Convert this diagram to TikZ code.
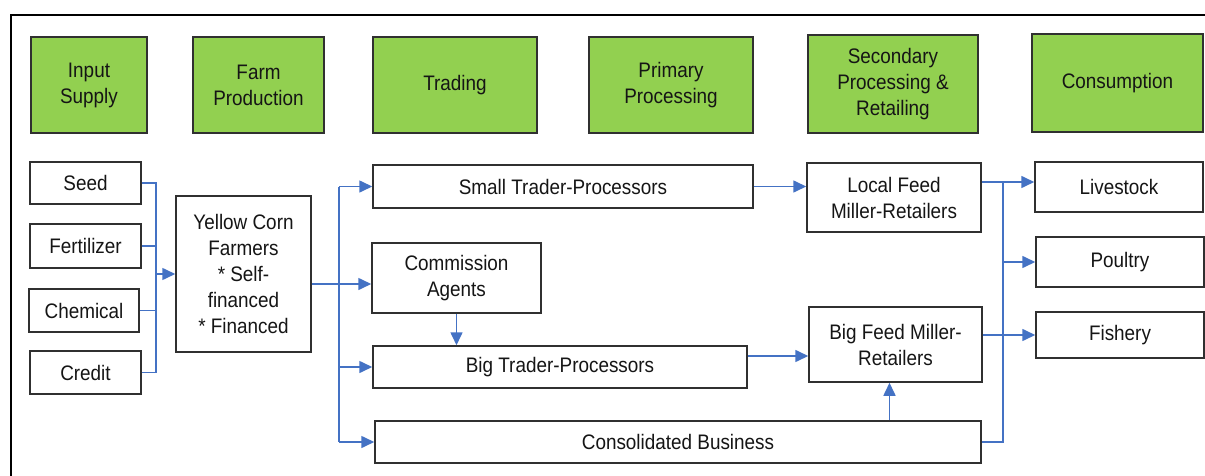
\documentclass[tikz,border=0pt]{standalone}
\usepackage{fontspec}
\setmainfont{Liberation Sans}[FakeStretch=0.9]
\usetikzlibrary{arrows.meta}
\definecolor{stagegreen}{HTML}{92D050}
\definecolor{flowblue}{HTML}{4472C4}
\definecolor{edgegray}{HTML}{303030}
\definecolor{inkgray}{HTML}{151515}
\tikzset{
  box/.style={draw=edgegray, line width=1.5pt, fill=white, inner sep=0pt,
    align=center, text=inkgray, font=\fontsize{21}{26}\selectfont},
  stage/.style={box, fill=stagegreen, minimum height=96pt},
  link/.style={draw=flowblue, line width=1.6pt},
  flow/.style={link, -{Triangle[length=13pt,width=12pt]}},
}
\begin{document}
\begin{tikzpicture}[x=1pt,y=-1pt]
\useasboundingbox (0,0) rectangle (1205,476);
\begin{scope}
  \clip (0,0) rectangle (1205,476);
  \draw[line width=2pt] (11,15) rectangle (1230,500);
\end{scope}

% stage headers
\node[stage, minimum width=116pt] (hin)   at (89,85)    {Input\\Supply};
\node[stage, minimum width=131pt] (hfarm) at (258.5,85) {Farm\\Production};
\node[stage, minimum width=164pt] (htrade) at (455,85)  {Trading};
\node[stage, minimum width=164pt] (hprim) at (671,85)   {Primary\\Processing};
\node[stage, minimum width=170pt, minimum height=98pt] (hsec) at (893,84) {Secondary\\Processing \&\\Retailing};
\node[stage, minimum width=171pt, minimum height=98pt] (hcons) at (1117.5,83) {Consumption};

% inputs
\node[box, minimum width=111pt, minimum height=42pt] (seed)   at (85.5,183)   {Seed};
\node[box, minimum width=111pt, minimum height=44pt] (fert)   at (85.5,246)   {Fertilizer};
\node[box, minimum width=110pt, minimum height=43pt] (chem)   at (84,310.5)   {Chemical};
\node[box, minimum width=111pt, minimum height=43pt] (credit) at (85.5,372.5) {Credit};

% farm production
\node[box, minimum width=135pt, minimum height=156pt] (farmers) at (243.5,274)
  {Yellow Corn\\Farmers\\* Self-\\financed\\* Financed};

% trading
\node[box, minimum width=380pt, minimum height=43pt] (small) at (563,186.5) {Small Trader-Processors};
\node[box, minimum width=169pt, minimum height=70pt] (comm)  at (456.5,278) {Commission\\Agents};
\node[box, minimum width=374pt, minimum height=42pt] (big)   at (560,367)   {Big Trader-Processors};
\node[box, minimum width=606pt, minimum height=42pt] (cons)  at (678,442)   {Consolidated Business};

% feed millers
\node[box, minimum width=174pt, minimum height=69pt] (local)   at (894,197.5)   {Local Feed\\Miller-Retailers};
\node[box, minimum width=173pt, minimum height=75pt] (bigfeed) at (895.5,344.5) {Big Feed Miller-\\Retailers};

% consumption
\node[box, minimum width=168pt, minimum height=50pt] (live)    at (1119,187) {Livestock};
\node[box, minimum width=168pt, minimum height=50pt] (poultry) at (1120,262) {Poultry};
\node[box, minimum width=168pt, minimum height=46pt] (fishery) at (1120,335) {Fishery};

% bus positions
\coordinate (lb) at (156,0);
\coordinate (mb) at (339,0);
\coordinate (rb) at (1003,0);
\coordinate (fy) at (0,284);
\coordinate (by) at (0,356);
\coordinate (ly) at (0,182);

% inputs to farmers
\draw[link] (seed.east) -- (seed.east -| lb) -- (credit.east -| lb) -- (credit.east);
\draw[link] (fert.east) -- (fert.east -| lb);
\draw[link] (chem.east) -- (chem.east -| lb);
\draw[flow] (lb |- farmers.west) -- (farmers.west);

% farmers to traders
\draw[flow] (farmers.east |- fy) -- (comm.west |- fy);
\draw[link] (mb |- small.west) -- (mb |- cons.west);
\draw[flow] (mb |- small.west) -- (small.west);
\draw[flow] (mb |- big.west) -- (big.west);
\draw[flow] (mb |- cons.west) -- (cons.west);
\draw[flow] (comm.south) -- (comm.south |- big.north);

% traders to feed millers
\draw[flow] (small.east) -- (small.east -| local.west);
\draw[flow] (big.east |- by) -- (bigfeed.west |- by);
\draw[flow] ([xshift=-6pt]bigfeed.south |- cons.north) -- ([xshift=-6pt]bigfeed.south);

% to consumption
\draw[link] (local.east |- ly) -- (rb |- ly) -- (rb |- cons.east) -- (cons.east);
\draw[flow] (rb |- ly) -- (live.west |- ly);
\draw[flow] (rb |- poultry.west) -- (poultry.west);
\draw[flow] (bigfeed.east |- fishery.west) -- (fishery.west);
\end{tikzpicture}
\end{document}
